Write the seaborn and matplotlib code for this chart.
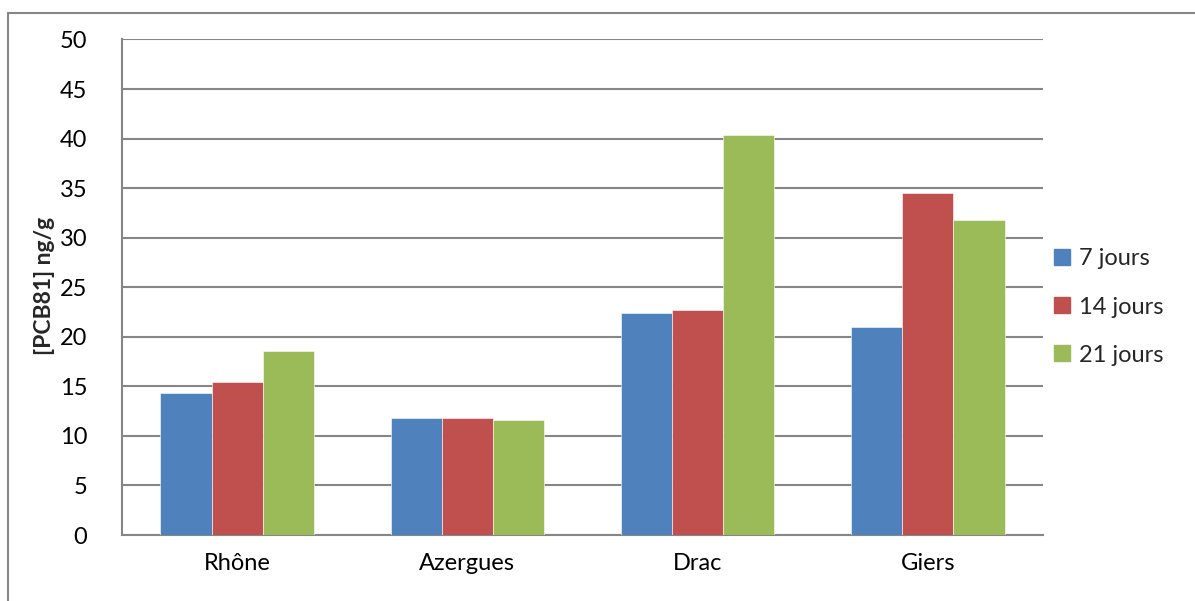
import matplotlib
matplotlib.use("Agg")
import matplotlib.pyplot as plt
from matplotlib.lines import Line2D
import seaborn as sns
import pandas as pd

sites = ["Rhône", "Azergues", "Drac", "Giers"]
durations = ["7 jours", "14 jours", "21 jours"]
jours_7 = [14.3, 11.85, 22.4, 21.0]
jours_14 = [15.45, 11.85, 22.75, 34.55]
jours_21 = [18.55, 11.6, 40.35, 31.75]
colors = ["#4F81BD", "#C0504D", "#9BBB59"]
y_ticks = [0, 5, 10, 15, 20, 25, 30, 35, 40, 45, 50]

sns.set_theme(style="white")
plt.rcParams["font.family"] = ["Lato", "DejaVu Sans"]

df = pd.DataFrame({
    "site": sites * 3,
    "duree": [d for d in durations for _ in sites],
    "valeur": jours_7 + jours_14 + jours_21,
})

fig = plt.figure(figsize=(11.95, 6.01), dpi=100)
ax = fig.add_axes([0.1021, 0.1098, 0.7707, 0.8245])

sns.barplot(data=df, x="site", y="valeur", hue="duree", hue_order=durations,
            palette=colors, width=0.667, saturation=1, ax=ax,
            edgecolor="white", linewidth=0.4, legend=False, zorder=3)

ax.set_ylim(0, 50)
ax.set_xlim(-0.5, 3.5)
ax.set_yticks(y_ticks)
ax.set_yticklabels([str(v) for v in y_ticks])
ax.yaxis.grid(True, color="#868686", linewidth=1.5, zorder=0)
ax.set_axisbelow(True)
ax.tick_params(axis="both", length=0, labelsize=17, colors="black")
ax.tick_params(axis="y", pad=25)
ax.tick_params(axis="x", pad=13)
ax.set_xlabel("")
ax.set_ylabel("")
for side in ["top", "right"]:
    ax.spines[side].set_visible(False)
for side in ["left", "bottom"]:
    ax.spines[side].set_color("#868686")
    ax.spines[side].set_linewidth(1.5)

fig.text(0.037, 0.524, "[PCB81] ng/g", rotation=90, ha="center", va="center",
         fontsize=16.5, fontweight="bold")

handles = [Line2D([0], [0], marker="s", linestyle="none", markersize=11,
                  markerfacecolor=c, markeredgecolor=c) for c in colors]
fig.legend(handles, durations, loc="center left", bbox_to_anchor=(0.873, 0.489),
           frameon=False, fontsize=17, handlelength=0.8, handletextpad=0.3,
           labelspacing=1.15, borderaxespad=0)

# outer chart frame (top and left edges)
fig.add_artist(Line2D([0.0067, 0.0067], [0, 0.979], color="#868686", linewidth=1.5,
                      transform=fig.transFigure))
fig.add_artist(Line2D([0.0067, 1.0], [0.979, 0.979], color="#868686", linewidth=1.5,
                      transform=fig.transFigure))

fig.savefig("out.png", dpi=100)
